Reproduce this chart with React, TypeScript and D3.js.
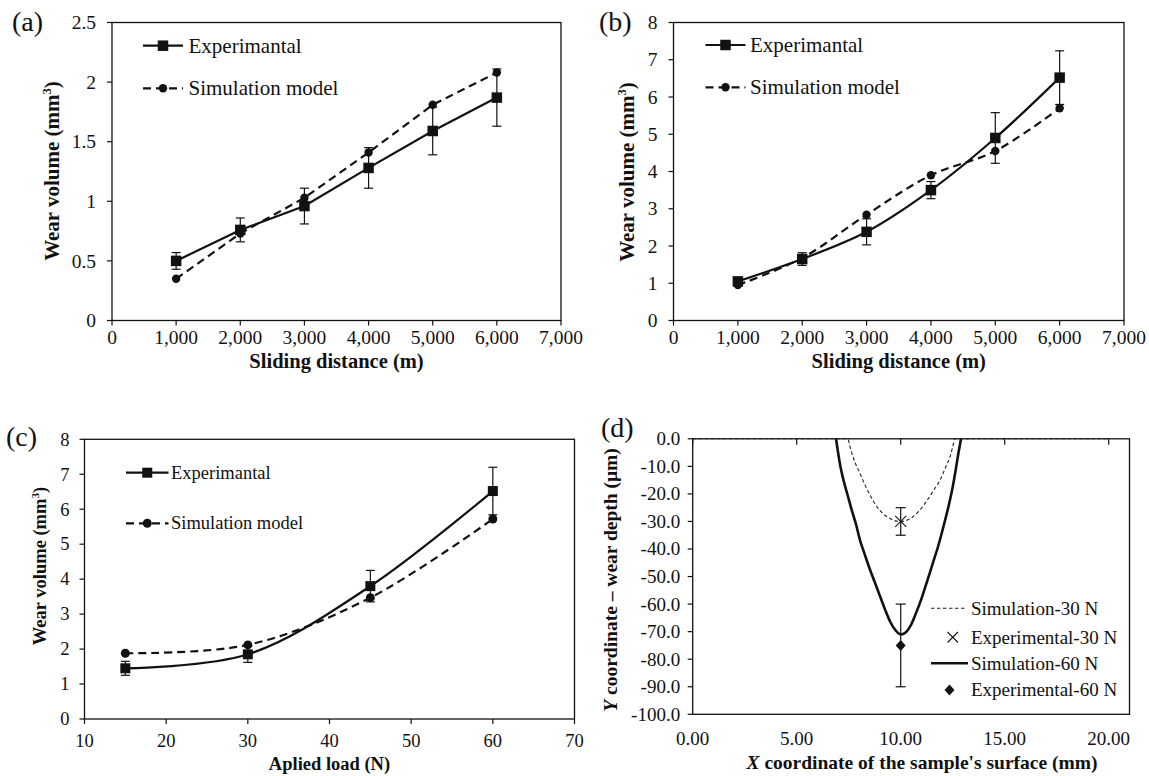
import React from "react";
import * as d3 from "d3";

const FONT = "Liberation Serif, Tinos, DejaVu Serif, Noto Serif, serif";

// ---------- Panel (a) / (b): wear volume vs sliding distance ----------
const distance = [1000, 2000, 3000, 4000, 5000, 6000];
const expA = [0.5, 0.76, 0.96, 1.28, 1.59, 1.87];
const expAErr = [0.07, 0.1, 0.15, 0.17, 0.2, 0.24];
const simA = [0.35, 0.73, 1.03, 1.41, 1.81, 2.08];

const expB = [1.05, 1.65, 2.38, 3.5, 4.9, 6.52];
const expBErr = [0.05, 0.17, 0.35, 0.23, 0.68, 0.72];
const simB = [0.95, 1.68, 2.84, 3.9, 4.55, 5.7];

const distTicks = [0, 1000, 2000, 3000, 4000, 5000, 6000, 7000];
const yTicksA = [0, 0.5, 1, 1.5, 2, 2.5];
const yTicksB = [0, 1, 2, 3, 4, 5, 6, 7, 8];

// ---------- Panel (c): wear volume vs applied load ----------
const load = [15, 30, 45, 60];
const expC = [1.45, 1.85, 3.8, 6.52];
const expCErr = [0.2, 0.23, 0.45, 0.68];
const simC = [1.88, 2.12, 3.47, 5.72];
const loadTicks = [10, 20, 30, 40, 50, 60, 70];
const yTicksC = [0, 1, 2, 3, 4, 5, 6, 7, 8];

// ---------- Panel (d): wear depth profile ----------
const sim60X = [6.89, 6.97, 7.1, 7.25, 7.45, 7.65, 7.85, 8.05, 8.25, 8.5, 8.75, 9.0, 9.25, 9.5, 9.75, 10.0, 10.25, 10.5, 10.75, 11.0, 11.3, 11.55, 11.8, 12.05, 12.3, 12.5, 12.65, 12.78, 12.9];
const sim60Y = [0, -4, -10, -15, -20.5, -26, -31, -37, -41.5, -47, -52, -57, -62, -66.5, -69.5, -71, -70.2, -67.5, -63, -58, -51, -45, -39, -32, -24.5, -17.5, -11, -5, 0];
const sim30X = [0, 7.45, 7.6, 7.8, 8.04, 8.3, 8.6, 8.85, 9.2, 9.5, 9.75, 10.0, 10.25, 10.5, 10.93, 11.3, 11.6, 11.89, 12.15, 12.37, 12.5, 12.6, 20];
const sim30Y = [0, 0, -4, -8.5, -12.5, -17, -21.5, -24.6, -27.5, -29, -29.8, -30, -29.7, -28.8, -25.8, -22, -18.5, -15, -10.5, -6.5, -3, 0, 0];
const expDX = [10];
const exp30 = [-30];
const exp30Err = [5];
const exp60 = [-75];
const exp60Err = [15];
const xTicksD = [0, 5, 10, 15, 20];
const yTicksD = [0, -10, -20, -30, -40, -50, -60, -70, -80, -90, -100];

type Box = { x0: number; x1: number; y0: number; y1: number };

function Axes(props: {
  box: Box;
  x: (v: number) => number;
  y: (v: number) => number;
  xTicks: number[];
  yTicks: number[];
  fx: (v: number) => string;
  fy: (v: number) => string;
  fs: number;
  xLabY: number;
  yGap: number;
  xTickTop?: boolean;
}) {
  const { box, x, y, xTicks, yTicks, fx, fy, fs, xLabY, yGap, xTickTop } = props;
  return (
    <g>
      <rect x={box.x0} y={box.y0} width={box.x1 - box.x0} height={box.y1 - box.y0} fill="none" stroke="#111" strokeWidth={1.3} />
      {yTicks.map((t) => (
        <g key={"y" + t}>
          <line x1={box.x0 - 5} x2={box.x0} y1={y(t)} y2={y(t)} stroke="#111" strokeWidth={1.2} />
          <text x={box.x0 - yGap} y={y(t)} dy="0.34em" textAnchor="end" fontSize={fs} style={{ fontFamily: FONT }} fill="#111">
            {fy(t)}
          </text>
        </g>
      ))}
      {xTicks.map((t) => (
        <g key={"x" + t}>
          {xTickTop ? (
            <line x1={x(t)} x2={x(t)} y1={box.y0} y2={box.y0 + 6} stroke="#111" strokeWidth={1.2} />
          ) : (
            <line x1={x(t)} x2={x(t)} y1={box.y1} y2={box.y1 + 5} stroke="#111" strokeWidth={1.2} />
          )}
          <text x={x(t)} y={xLabY} textAnchor="middle" fontSize={fs} style={{ fontFamily: FONT }} fill="#111">
            {fx(t)}
          </text>
        </g>
      ))}
    </g>
  );
}

function ErrBars({ xs, vs, es, x, y, cap = 4.5 }: any) {
  return (
    <g stroke="#111" strokeWidth={1.2}>
      {xs.map((xv: number, i: number) => {
        const px = x(xv);
        const a = y(vs[i] - es[i]);
        const b = y(vs[i] + es[i]);
        return (
          <g key={i}>
            <line x1={px} x2={px} y1={a} y2={b} />
            <line x1={px - cap} x2={px + cap} y1={a} y2={a} />
            <line x1={px - cap} x2={px + cap} y1={b} y2={b} />
          </g>
        );
      })}
    </g>
  );
}

function Series({ xs, exp, err, sim, x, y, curve, sq = 10.5, r = 4.2 }: any) {
  const line = d3
    .line<number>()
    .x((_, i) => x(xs[i]))
    .y((d) => y(d))
    .curve(curve);
  return (
    <g>
      <ErrBars xs={xs} vs={exp} es={err} x={x} y={y} />
      <path d={line(sim) || ""} fill="none" stroke="#111" strokeWidth={2.2} strokeDasharray="8,5" />
      <path d={line(exp) || ""} fill="none" stroke="#111" strokeWidth={2.2} />
      {sim.map((v: number, i: number) => (
        <circle key={"c" + i} cx={x(xs[i])} cy={y(v)} r={r} fill="#111" />
      ))}
      {exp.map((v: number, i: number) => (
        <rect key={"s" + i} x={x(xs[i]) - sq / 2} y={y(v) - sq / 2} width={sq} height={sq} fill="#111" />
      ))}
    </g>
  );
}

function Legend2({ lx0, lx1, tx, y1, y2, fs, sq = 10.5, r = 4.2 }: any) {
  const mx = (lx0 + lx1) / 2;
  return (
    <g>
      <line x1={lx0} x2={lx1} y1={y1} y2={y1} stroke="#111" strokeWidth={2.2} />
      <rect x={mx - sq / 2} y={y1 - sq / 2} width={sq} height={sq} fill="#111" />
      <text x={tx} y={y1} dy="0.33em" fontSize={fs} style={{ fontFamily: FONT }} fill="#111">
        Experimantal
      </text>
      <line x1={lx0} x2={lx1} y1={y2} y2={y2} stroke="#111" strokeWidth={2.2} strokeDasharray="8,5" />
      <circle cx={mx} cy={y2} r={r} fill="#111" />
      <text x={tx} y={y2} dy="0.33em" fontSize={fs} style={{ fontFamily: FONT }} fill="#111">
        Simulation model
      </text>
    </g>
  );
}

function WearTitle({ cx, cy, fs }: any) {
  return (
    <text
      transform={`translate(${cx},${cy}) rotate(-90)`}
      textAnchor="middle"
      dy="0.35em"
      fontSize={fs}
      fontWeight="bold"
      style={{ fontFamily: FONT }}
      fill="#111"
    >
      <tspan>Wear volume (mm</tspan>
      <tspan dy={-fs * 0.38} fontSize={fs * 0.6}>3</tspan>
      <tspan dy={fs * 0.38}>)</tspan>
    </text>
  );
}

export default function App() {
  const boxA: Box = { x0: 112, x1: 561, y0: 22.5, y1: 320.5 };
  const xA = d3.scaleLinear().domain([0, 7000]).range([boxA.x0, boxA.x1]);
  const yA = d3.scaleLinear().domain([0, 2.5]).range([boxA.y1, boxA.y0]);
  const boxB: Box = { x0: 673.5, x1: 1124, y0: 22.5, y1: 320.5 };
  const xB = d3.scaleLinear().domain([0, 7000]).range([boxB.x0, boxB.x1]);
  const yB = d3.scaleLinear().domain([0, 8]).range([boxB.y1, boxB.y0]);
  const boxC: Box = { x0: 84.5, x1: 574.5, y0: 439.3, y1: 719 };
  const xC = d3.scaleLinear().domain([10, 70]).range([boxC.x0, boxC.x1]);
  const yC = d3.scaleLinear().domain([0, 8]).range([boxC.y1, boxC.y0]);
  const boxD: Box = { x0: 692.7, x1: 1129.5, y0: 438.8, y1: 714.3 };
  const xD = d3.scaleLinear().domain([0, 21]).range([boxD.x0, boxD.x1]);
  const yD = d3.scaleLinear().domain([-100, 0]).range([boxD.y1, boxD.y0]);

  const fmtComma = d3.format(",");
  const lineD = (xs: number[]) =>
    d3
      .line<number>()
      .x((_, i) => xD(xs[i]))
      .y((d) => yD(d))
      .curve(d3.curveMonotoneX);

  const smooth = d3.curveCatmullRom.alpha(0.5);
  const tickFs = 19.5;
  const T = { fontFamily: FONT };

  return (
    <svg width={1149} height={776} style={{ position: "absolute", left: 0, top: 0, background: "#fff", fontFamily: FONT }}>
      <rect x={0} y={0} width={1149} height={776} fill="#fff" />

      {/* ---------------- (a) ---------------- */}
      <text x={12} y={31} fontSize={28} style={T} fill="#111">(a)</text>
      <Axes box={boxA} x={xA} y={yA} xTicks={distTicks} yTicks={yTicksA} fx={(v) => fmtComma(v)} fy={(v) => String(v)} fs={tickFs} xLabY={344} yGap={16} />
      <Series xs={distance} exp={expA} err={expAErr} sim={simA} x={xA} y={yA} curve={d3.curveLinear} />
      <Legend2 lx0={143} lx1={183} tx={188.5} y1={45.7} y2={88.3} fs={21} />
      <WearTitle cx={52} cy={171} fs={21} />
      <text x={(boxA.x0 + boxA.x1) / 2} y={368} textAnchor="middle" fontSize={20.5} fontWeight="bold" style={T} fill="#111">
        Sliding distance (m)
      </text>

      {/* ---------------- (b) ---------------- */}
      <text x={599} y={31} fontSize={28} style={T} fill="#111">(b)</text>
      <Axes box={boxB} x={xB} y={yB} xTicks={distTicks} yTicks={yTicksB} fx={(v) => fmtComma(v)} fy={(v) => String(v)} fs={tickFs} xLabY={344} yGap={16} />
      <Series xs={distance} exp={expB} err={expBErr} sim={simB} x={xB} y={yB} curve={smooth} />
      <Legend2 lx0={705.5} lx1={745.5} tx={750} y1={45} y2={87.3} fs={21} />
      <WearTitle cx={627} cy={172} fs={21} />
      <text x={(boxB.x0 + boxB.x1) / 2} y={368} textAnchor="middle" fontSize={20.5} fontWeight="bold" style={T} fill="#111">
        Sliding distance (m)
      </text>

      {/* ---------------- (c) ---------------- */}
      <text x={6} y={446} fontSize={28} style={T} fill="#111">(c)</text>
      <Axes box={boxC} x={xC} y={yC} xTicks={loadTicks} yTicks={yTicksC} fx={(v) => String(v)} fy={(v) => String(v)} fs={18.5} xLabY={747} yGap={15} />
      <Series xs={load} exp={expC} err={expCErr} sim={simC} x={xC} y={yC} curve={smooth} sq={10} r={4.5} />
      <Legend2 lx0={126} lx1={168.5} tx={171} y1={472.7} y2={523.3} fs={18.5} sq={10} r={4.5} />
      <WearTitle cx={39.5} cy={566} fs={18.5} />
      <text x={(boxC.x0 + boxC.x1) / 2} y={770} textAnchor="middle" fontSize={18.5} fontWeight="bold" style={T} fill="#111">
        Aplied load (N)
      </text>

      {/* ---------------- (d) ---------------- */}
      <text x={601} y={437} fontSize={28} style={T} fill="#111">(d)</text>
      <Axes box={boxD} x={xD} y={yD} xTicks={xTicksD} yTicks={yTicksD} fx={(v) => v.toFixed(2)} fy={(v) => v.toFixed(1)} fs={19} xLabY={745} yGap={12.5} xTickTop />
      <path d={lineD(sim30X)(sim30Y) || ""} fill="none" stroke="#222" strokeWidth={1.1} strokeDasharray="3.5,2.5" />
      <path d={lineD(sim60X)(sim60Y) || ""} fill="none" stroke="#111" strokeWidth={2.6} />
      {expDX.map((xv, i) => (
        <g key={"e" + i}>
          <ErrBars xs={[xv]} vs={[exp30[i]]} es={[exp30Err[i]]} x={xD} y={yD} cap={5} />
          <ErrBars xs={[xv]} vs={[exp60[i]]} es={[exp60Err[i]]} x={xD} y={yD} cap={5} />
          <g stroke="#111" strokeWidth={1.1}>
            <line x1={xD(xv) - 5.5} x2={xD(xv) + 5.5} y1={yD(exp30[i]) - 5.5} y2={yD(exp30[i]) + 5.5} />
            <line x1={xD(xv) - 5.5} x2={xD(xv) + 5.5} y1={yD(exp30[i]) + 5.5} y2={yD(exp30[i]) - 5.5} />
          </g>
          <path
            d={`M${xD(xv)},${yD(exp60[i]) - 5.5} L${xD(xv) + 5},${yD(exp60[i])} L${xD(xv)},${yD(exp60[i]) + 5.5} L${xD(xv) - 5},${yD(exp60[i])} Z`}
            fill="#111"
          />
        </g>
      ))}
      <g style={T} fontSize={19} fill="#111">
        <line x1={931} x2={966} y1={608.3} y2={608.3} stroke="#222" strokeWidth={1.1} strokeDasharray="3.5,2.5" />
        <text x={971} y={608.3} dy="0.33em">Simulation-30 N</text>
        <g stroke="#111" strokeWidth={1.1}>
          <line x1={947.5} x2={958} y1={632} y2={642.5} />
          <line x1={947.5} x2={958} y1={642.5} y2={632} />
        </g>
        <text x={971} y={637.3} dy="0.33em">Experimental-30 N</text>
        <line x1={931} x2={968} y1={663.3} y2={663.3} stroke="#111" strokeWidth={2.6} />
        <text x={971} y={663.3} dy="0.33em">Simulation-60 N</text>
        <path d="M949.5,684.5 L954.5,690 L949.5,695.5 L944.5,690 Z" fill="#111" />
        <text x={971} y={690} dy="0.33em">Experimental-60 N</text>
      </g>
      <text
        transform={`translate(610,580) rotate(-90)`}
        textAnchor="middle"
        dy="0.35em"
        fontSize={19.5}
        fontWeight="bold"
        style={T}
        fill="#111"
      >
        <tspan fontStyle="italic">Y</tspan>
        <tspan> coordinate – wear depth (μm)</tspan>
      </text>
      <text x={922} y={769} textAnchor="middle" fontSize={19.5} fontWeight="bold" style={T} fill="#111">
        <tspan fontStyle="italic">X</tspan>
        <tspan> coordinate of the sample's surface (mm)</tspan>
      </text>
    </svg>
  );
}
